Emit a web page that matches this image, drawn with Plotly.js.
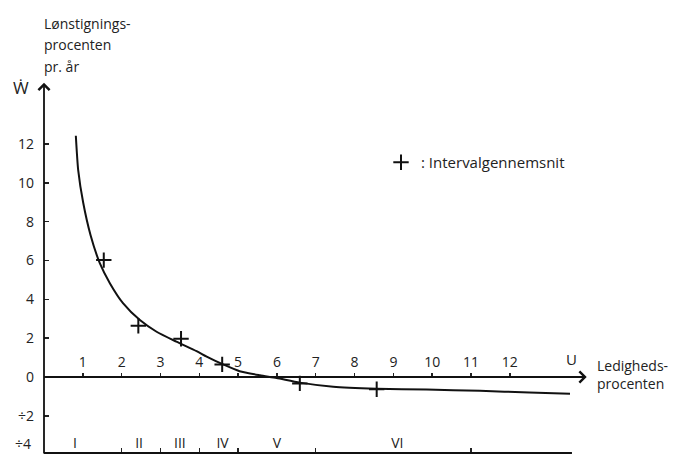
<!DOCTYPE html>
<html>
<head>
<meta charset="utf-8">
<script src="https://cdn.plot.ly/plotly-3.0.1.min.js"></script>
<style>html,body{margin:0;padding:0;background:#fff;}#chart{width:675px;height:455px;}</style>
</head>
<body>
<div id="chart"></div>
<script>
// Curve: wage increase (W-dot) vs unemployment (U)
const curveU = [0.82, 0.88, 1.01, 1.20, 1.44, 1.70, 2.04, 2.47, 2.90, 3.41, 3.93, 4.19, 4.60, 5.04, 5.56, 5.99, 6.59, 7.45, 8.57, 9.86, 11.23, 12.50, 13.55];
const curveW = [12.42, 10.67, 8.97, 7.30, 5.85, 4.82, 3.79, 2.93, 2.33, 1.82, 1.33, 1.05, 0.66, 0.30, 0.09, -0.05, -0.29, -0.50, -0.60, -0.65, -0.71, -0.80, -0.86];
// Interval averages (+)
const avgU = [1.54, 2.43, 3.53, 4.59, 6.59, 8.57];
const avgW = [6.02, 2.64, 1.97, 0.65, -0.33, -0.63];
// Axis ticks (the lowest label sits on the page edge and is placed as a note)
const xTicks = [1, 2, 3, 4, 5, 6, 7, 8, 9, 10, 11, 12];
const yTicks = [-4, -2, 0, 2, 4, 6, 8, 10, 12];
const yTickText = ['', '÷2', '0', '2', '4', '6', '8', '10', '12'];
const yEdgeLabel = '÷4';
// Unemployment intervals
const intervalBounds = [2, 3, 4, 5, 7, 11];
const intervalNames = ['I', 'II', 'III', 'IV', 'V', 'VI'];
const intervalMid = [0.8, 2.45, 3.5, 4.6, 6.0, 9.1];

const FONT = '"Open Sans", Lato, sans-serif';
const pxPerU = 38.82, pxPerW = 19.42;
const L = 44, W = 675, H = 455, originY = 377;
const xMax = (W - L) / pxPerU;
const yMin = -(H - originY) / pxPerW, yMax = originY / pxPerW;
const px = v => (v - L) / (W - L);     // paper x from pixel
const py = v => (H - v) / H;           // paper y from pixel

const traces = [
  {x: curveU, y: curveW, mode: 'lines', line: {color: '#111', width: 2, shape: 'spline', smoothing: 0.6}, showlegend: false, hoverinfo: 'skip'},
  {x: avgU, y: avgW, mode: 'markers', name: ': Intervalgennemsnit',
   marker: {symbol: 'cross-thin', size: 11, color: '#111', line: {color: '#111', width: 2}}},
  {x: intervalMid, y: intervalMid.map(() => -3.45), xaxis: 'x2', mode: 'text', text: intervalNames,
   textfont: {family: FONT, size: 14, color: '#222'}, showlegend: false, hoverinfo: 'skip'}
];

const layout = {
  width: W, height: H,
  margin: {l: L, r: 0, t: 0, b: 0},
  paper_bgcolor: '#fff', plot_bgcolor: '#fff',
  font: {family: FONT, color: '#222', size: 14},
  xaxis: {range: [0, xMax], tickmode: 'array', tickvals: xTicks, side: 'top', anchor: 'free',
          position: (H - originY) / H, showline: false, zeroline: false, showgrid: false,
          ticks: 'outside', ticklen: 4, tickwidth: 1.5, tickcolor: '#222', tickfont: {size: 14}},
  xaxis2: {overlaying: 'x', matches: 'x', range: [0, xMax], tickmode: 'array', tickvals: intervalBounds,
           showticklabels: false, side: 'top', anchor: 'free', position: 2 / H,
           ticks: 'outside', ticklen: 5, tickwidth: 1.5, tickcolor: '#222',
           showline: false, zeroline: false, showgrid: false},
  yaxis: {range: [yMin, yMax], tickmode: 'array', tickvals: yTicks, ticktext: yTickText,
          showline: false, zeroline: false, showgrid: false, ticks: 'inside', ticklen: 5,
          tickwidth: 1.5, tickcolor: '#222', tickfont: {size: 14}, ticklabelstandoff: 9},
  showlegend: true,
  legend: {x: px(381), y: py(146), xanchor: 'left', yanchor: 'top',
           font: {family: FONT, size: 15, color: '#222'}, bgcolor: 'rgba(0,0,0,0)', itemwidth: 30},
  shapes: [
    {type: 'line', xref: 'x', yref: 'paper', x0: 0, x1: 13.6, y0: 2 / H, y1: 2 / H, line: {color: '#111', width: 2}}
  ],
  annotations: [
    {x: 0, y: 15.15, ax: 0, ay: yMin, xref: 'x', yref: 'y', axref: 'x', ayref: 'y', text: '', showarrow: true,
     arrowhead: 4, arrowsize: 1.2, arrowwidth: 1.8, arrowcolor: '#111'},
    {x: 13.98, y: 0, ax: 0, ay: 0, xref: 'x', yref: 'y', axref: 'x', ayref: 'y', text: '', showarrow: true,
     arrowhead: 4, arrowsize: 1.2, arrowwidth: 1.8, arrowcolor: '#111'},
    {x: px(33), y: 0, xref: 'paper', yref: 'paper', xanchor: 'right', yanchor: 'bottom', text: yEdgeLabel, showarrow: false, font: {size: 14}},
    {x: 13.6, y: 0, xref: 'x', yref: 'y', yshift: 18, text: 'U', showarrow: false, font: {size: 15}},
    {x: 14.2, y: 0, xref: 'x', yref: 'y', xanchor: 'left', yanchor: 'middle', yshift: 12, text: 'Ledigheds-', showarrow: false, font: {size: 14}},
    {x: 14.2, y: 0, xref: 'x', yref: 'y', xanchor: 'left', yanchor: 'middle', yshift: -6, text: 'procenten', showarrow: false, font: {size: 14}},
    {x: px(42), y: py(23), xref: 'paper', yref: 'paper', xanchor: 'left', yanchor: 'middle', text: 'Lønstignings-', showarrow: false, font: {size: 14}},
    {x: px(42), y: py(45), xref: 'paper', yref: 'paper', xanchor: 'left', yanchor: 'middle', text: 'procenten', showarrow: false, font: {size: 14}},
    {x: px(42), y: py(66), xref: 'paper', yref: 'paper', xanchor: 'left', yanchor: 'middle', text: 'pr. år', showarrow: false, font: {size: 14}},
    {x: px(21), y: py(87), xref: 'paper', yref: 'paper', xanchor: 'center', yanchor: 'middle', text: 'Ẇ', showarrow: false, font: {size: 17}}
  ]
};

Plotly.newPlot('chart', traces, layout, {staticPlot: true, displayModeBar: false});
</script>
</body>
</html>
